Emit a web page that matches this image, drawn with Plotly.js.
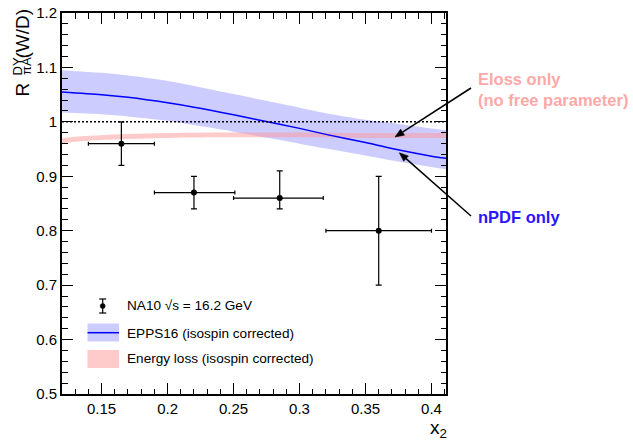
<!DOCTYPE html>
<html>
<head>
<meta charset="utf-8">
<script src="https://cdn.plot.ly/plotly-3.0.1.min.js"></script>
<style>html,body{margin:0;padding:0;background:#fff;}#chart{width:633px;height:440px;}</style>
</head>
<body>
<div id="chart"></div>
<script>
// NA10 data (sqrt(s) = 16.2 GeV)
var na10X = [0.165, 0.22, 0.285, 0.36];
var na10Y = [0.96, 0.87, 0.86, 0.80];
var na10XErrMinus = [0.025, 0.03, 0.035, 0.04];
var na10XErrPlus = [0.025, 0.031, 0.033, 0.04];
var na10YErrMinus = [0.04, 0.03, 0.02, 0.10];
var na10YErrPlus = [0.04, 0.03, 0.05, 0.10];

// EPPS16 band (isospin corrected)
var eppsX = [0.12, 0.15, 0.17, 0.2, 0.22, 0.25, 0.27, 0.3, 0.32, 0.35, 0.37, 0.4, 0.411];
var eppsCentral = [1.055, 1.050, 1.045, 1.035, 1.027, 1.013, 1.003, 0.988, 0.977, 0.962, 0.951, 0.937, 0.933];
var eppsUpper = [1.095, 1.090, 1.085, 1.075, 1.066, 1.051, 1.041, 1.026, 1.016, 1.004, 0.998, 0.988, 0.985];
var eppsLower = [1.017, 1.014, 1.010, 1.002, 0.994, 0.982, 0.973, 0.960, 0.951, 0.938, 0.929, 0.917, 0.913];

// Energy loss band (isospin corrected)
var elossX = [0.12, 0.13, 0.14, 0.15, 0.17, 0.2, 0.25, 0.3, 0.35, 0.411];
var elossUpper = [0.9695, 0.9725, 0.9745, 0.9755, 0.9775, 0.9795, 0.9805, 0.9805, 0.9795, 0.9795];
var elossLower = [0.9605, 0.9635, 0.9655, 0.9665, 0.9685, 0.9705, 0.9715, 0.9715, 0.9705, 0.9705];

// Labels
var legendLabels = ["NA10 \u221As = 16.2 GeV", "EPPS16 (isospin corrected)", "Energy loss (isospin corrected)"];
var elossNote = ["Eloss only", "(no free parameter)"];
var npdfNote = "nPDF only";

var FONT = "Liberation Sans, Arial, Helvetica, sans-serif";
var BLUE = "#0000ff";
var BLUEFILL = "rgba(0,0,255,0.2)";
var PINKFILL = "rgba(255,150,150,0.5)";

var traces = [
  {x: eppsX, y: eppsLower, mode: "lines", line: {width: 0, color: BLUEFILL, shape: "spline", smoothing: 0.8}, hoverinfo: "skip", showlegend: false},
  {x: eppsX, y: eppsUpper, mode: "lines", line: {width: 0, color: BLUEFILL, shape: "spline", smoothing: 0.8}, fill: "tonexty", fillcolor: BLUEFILL, hoverinfo: "skip", showlegend: false},
  {x: elossX, y: elossLower, mode: "lines", line: {width: 0, color: PINKFILL, shape: "spline"}, hoverinfo: "skip", showlegend: false},
  {x: elossX, y: elossUpper, mode: "lines", line: {width: 0, color: PINKFILL, shape: "spline"}, fill: "tonexty", fillcolor: PINKFILL, hoverinfo: "skip", showlegend: false},
  {x: eppsX, y: eppsCentral, mode: "lines", line: {width: 1.5, color: BLUE, shape: "spline", smoothing: 0.8}, showlegend: false},
  {x: na10X, y: na10Y, mode: "markers", marker: {color: "black", size: 6},
   error_x: {type: "data", symmetric: false, array: na10XErrPlus, arrayminus: na10XErrMinus, color: "black", thickness: 1.2, width: 2},
   error_y: {type: "data", symmetric: false, array: na10YErrPlus, arrayminus: na10YErrMinus, color: "black", thickness: 1.2, width: 3},
   showlegend: false}
];

function px2x(px) { return (px - 62) / 384; }
function py2y(py) { return (394 - py) / 381; }

// arrow (line + filled head) from pixel tail to pixel head
function arrowShapes(tx, ty, hx, hy) {
  var dx = hx - tx, dy = hy - ty, L = Math.sqrt(dx * dx + dy * dy);
  var ux = dx / L, uy = dy / L, len = 9, hw = 3.6;
  var bx = hx - len * ux, by = hy - len * uy;
  var c1x = bx + hw * (-uy), c1y = by + hw * ux;
  var c2x = bx - hw * (-uy), c2y = by - hw * ux;
  return [
    {type: "line", xref: "paper", yref: "paper", x0: px2x(tx), y0: py2y(ty), x1: px2x(bx), y1: py2y(by), line: {color: "black", width: 1.5}},
    {type: "path", xref: "paper", yref: "paper",
     path: "M" + px2x(hx) + "," + py2y(hy) + " L" + px2x(c1x) + "," + py2y(c1y) + " L" + px2x(c2x) + "," + py2y(c2y) + " Z",
     fillcolor: "black", line: {color: "black", width: 0.5}}
  ];
}

var shapes = [
  {type: "line", xref: "paper", yref: "y", x0: 0, x1: 1, y0: 1, y1: 1, line: {color: "black", width: 1.5, dash: "2px,2px"}},
  // legend: NA10 symbol
  {type: "line", xref: "paper", yref: "paper", x0: px2x(102.7), x1: px2x(102.7), y0: py2y(299), y1: py2y(313), line: {color: "black", width: 1.2}},
  {type: "line", xref: "paper", yref: "paper", x0: px2x(99.2), x1: px2x(106.2), y0: py2y(299), y1: py2y(299), line: {color: "black", width: 1.2}},
  {type: "line", xref: "paper", yref: "paper", x0: px2x(99.2), x1: px2x(106.2), y0: py2y(313), y1: py2y(313), line: {color: "black", width: 1.2}},
  {type: "circle", xref: "paper", yref: "paper", x0: px2x(100.2), x1: px2x(105.2), y0: py2y(303.5), y1: py2y(308.5), fillcolor: "black", line: {color: "black", width: 0.5}},
  // legend: EPPS16 box
  {type: "rect", xref: "paper", yref: "paper", x0: px2x(87.5), x1: px2x(119), y0: py2y(341.5), y1: py2y(323.5), fillcolor: BLUEFILL, line: {width: 0}},
  {type: "line", xref: "paper", yref: "paper", x0: px2x(87.5), x1: px2x(119), y0: py2y(332.7), y1: py2y(332.7), line: {color: BLUE, width: 1.5}},
  // legend: Eloss box
  {type: "rect", xref: "paper", yref: "paper", x0: px2x(87.5), x1: px2x(119), y0: py2y(368), y1: py2y(350), fillcolor: PINKFILL, line: {width: 0}}
].concat(arrowShapes(471, 88, 395, 137)).concat(arrowShapes(471, 216, 399.3, 152.7));

var annotations = [
  // y-axis title pieces (stacked super/subscripts)
  {text: "(W/D)", xref: "paper", yref: "paper", x: 0, y: 1, xshift: -40.5, yshift: 6, xanchor: "center", yanchor: "top", textangle: -90, showarrow: false, font: {family: FONT, size: 19, color: "black"}},
  {text: "R", xref: "paper", yref: "paper", x: 0, y: 1, xshift: -40.5, yshift: -86, xanchor: "center", yanchor: "bottom", textangle: -90, showarrow: false, font: {family: FONT, size: 19, color: "black"}},
  {text: "DY", xref: "paper", yref: "paper", x: 0, y: 1, xshift: -45, yshift: -64.5, xanchor: "center", yanchor: "bottom", textangle: -90, showarrow: false, font: {family: FONT, size: 13, color: "black"}},
  {text: "\u03C0A", xref: "paper", yref: "paper", x: 0, y: 1, xshift: -35.5, yshift: -64.5, xanchor: "center", yanchor: "bottom", textangle: -90, showarrow: false, font: {family: FONT, size: 13, color: "black"}},
  // x-axis title
  {text: "x<sub>2</sub>", xref: "paper", yref: "paper", x: 1, y: 0, xshift: 3, yshift: -21, xanchor: "right", yanchor: "top", showarrow: false, font: {family: FONT, size: 19, color: "black"}},
  // legend texts
  {text: legendLabels[0], xref: "paper", yref: "paper", x: px2x(125), y: py2y(305.5), xanchor: "left", yanchor: "middle", showarrow: false, font: {family: FONT, size: 13.6, color: "black"}},
  {text: legendLabels[1], xref: "paper", yref: "paper", x: px2x(125), y: py2y(333), xanchor: "left", yanchor: "middle", showarrow: false, font: {family: FONT, size: 13.6, color: "black"}},
  {text: legendLabels[2], xref: "paper", yref: "paper", x: px2x(125), y: py2y(358.5), xanchor: "left", yanchor: "middle", showarrow: false, font: {family: FONT, size: 13.6, color: "black"}},
  // notes
  {text: "<b>" + elossNote[0] + "</b>", xref: "paper", yref: "paper", x: px2x(476), y: py2y(79), xanchor: "left", yanchor: "middle", showarrow: false, font: {family: FONT, size: 16.5, color: "#ffa8a8"}},
  {text: "<b>" + elossNote[1] + "</b>", xref: "paper", yref: "paper", x: px2x(476), y: py2y(100), xanchor: "left", yanchor: "middle", showarrow: false, font: {family: FONT, size: 16.5, color: "#ffa8a8"}},
  {text: "<b>" + npdfNote + "</b>", xref: "paper", yref: "paper", x: px2x(476), y: py2y(217), xanchor: "left", yanchor: "middle", showarrow: false, font: {family: FONT, size: 16.5, color: "#2a16ff"}}
];

var axisCommon = {
  showgrid: false, zeroline: false, showline: true, linecolor: "black", linewidth: 2,
  mirror: "ticks", ticks: "inside", tickcolor: "black", tickwidth: 1, ticklen: 11,
  tickfont: {family: FONT, size: 15, color: "black"}
};

var layout = {
  width: 633, height: 440,
  margin: {l: 62, r: 187, t: 13, b: 46, pad: 0},
  paper_bgcolor: "white", plot_bgcolor: "white",
  showlegend: false,
  xaxis: Object.assign({}, axisCommon, {range: [0.12, 0.411], dtick: 0.05, tick0: 0,
    minor: {dtick: 0.01, tick0: 0, ticks: "inside", ticklen: 5.5, tickcolor: "black", tickwidth: 1}}),
  yaxis: Object.assign({}, axisCommon, {range: [0.5, 1.2], dtick: 0.1, tick0: 0,
    minor: {dtick: 0.02, tick0: 0, ticks: "inside", ticklen: 5.5, tickcolor: "black", tickwidth: 1}}),
  shapes: shapes,
  annotations: annotations
};

Plotly.newPlot("chart", traces, layout, {staticPlot: true});
</script>
</body>
</html>
